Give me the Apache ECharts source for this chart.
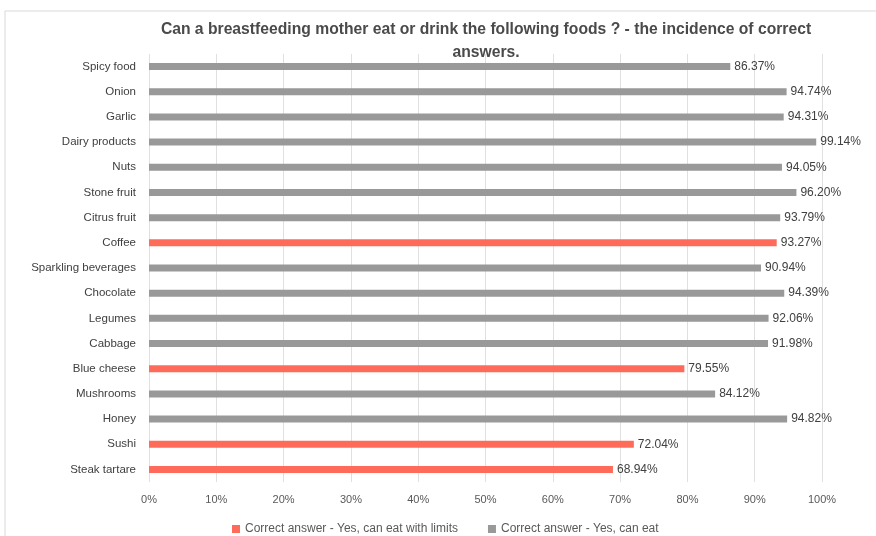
<!DOCTYPE html>
<html><head><meta charset="utf-8">
<script src="https://cdn.jsdelivr.net/npm/echarts@6/dist/echarts.min.js"></script>
<style>html,body{margin:0;padding:0;background:#fff}#c{width:876px;height:536px}</style>
</head><body><div id="c"></div>
<script>
const titleText = "Can a breastfeeding mother eat or drink the following foods ? - the incidence of correct\nanswers.";
const categories = ["Spicy food","Onion","Garlic","Dairy products","Nuts","Stone fruit","Citrus fruit","Coffee","Sparkling beverages","Chocolate","Legumes","Cabbage","Blue cheese","Mushrooms","Honey","Sushi","Steak tartare"];
const values = [86.37,94.74,94.31,99.14,94.05,96.20,93.79,93.27,90.94,94.39,92.06,91.98,79.55,84.12,94.82,72.04,68.94];
const answerType = ["eat","eat","eat","eat","eat","eat","eat","limits","eat","eat","eat","eat","limits","eat","eat","limits","limits"];
const seriesNames = {limits: "Correct answer - Yes, can eat with limits", eat: "Correct answer - Yes, can eat"};
const xTicks = [0,10,20,30,40,50,60,70,80,90,100];

const colors = {limits: "#FF6B5A", eat: "#999999"};
const font = "Liberation Sans";
function mk(key){
  return {
    name: seriesNames[key], type: "bar", stack: "s", barWidth: 7,
    itemStyle: {color: colors[key]},
    label: {show: true, position: "right", distance: 4, color: "#404040", fontSize: 12, fontFamily: font,
      formatter: p => p.value.toFixed(2) + "%"},
    data: values.map((v,i) => answerType[i] === key ? v : "-")
  };
}
const chart = echarts.init(document.getElementById("c"));
chart.setOption({
  animation: false,
  title: {text: titleText, left: 481, top: 13, textAlign: "center",
    textStyle: {fontFamily: font, fontSize: 15.7, fontWeight: "bold", color: "#4a4a4a", lineHeight: 23}},
  graphic: [{type: "rect", shape: {x: 5, y: 11, width: 900, height: 600}, style: {fill: "none", stroke: "#d9d9d9", lineWidth: 1}, silent: true}],
  legend: {left: 227, top: 518, itemWidth: 8, itemHeight: 8, itemGap: 30, icon: "rect",
    textStyle: {fontFamily: font, fontSize: 12, color: "#595959"},
    data: [seriesNames.limits, seriesNames.eat]},
  grid: {left: 149, right: 54, top: 54, bottom: 54, containLabel: false},
  xAxis: {type: "value", min: xTicks[0], max: xTicks[xTicks.length-1], interval: 10,
    axisLine: {show: false}, axisTick: {show: false},
    splitLine: {lineStyle: {color: "#e0e0e0"}},
    axisLabel: {formatter: "{value}%", color: "#595959", fontFamily: font, fontSize: 11, margin: 12}},
  yAxis: {type: "category", inverse: true, data: categories,
    axisLine: {show: false}, axisTick: {show: false},
    axisLabel: {color: "#404040", fontFamily: font, fontSize: 11.5, margin: 13}},
  series: [mk("limits"), mk("eat")]
});
</script></body></html>
